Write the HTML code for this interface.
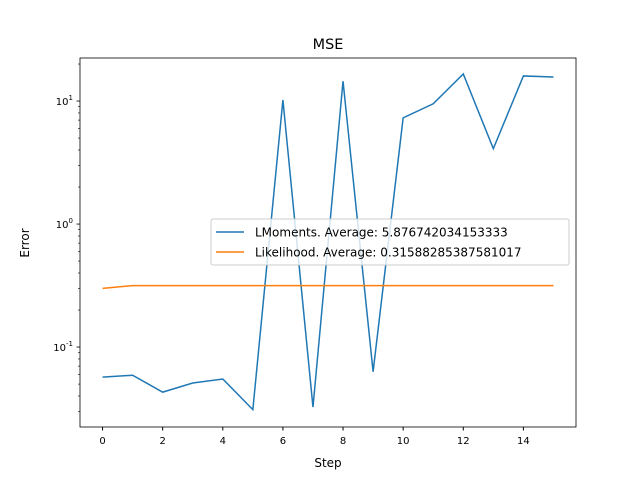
<!DOCTYPE html>
<html><head><meta charset="utf-8"><style>body{margin:0;background:#fff}svg{font-family:"DejaVu Sans","Liberation Sans",sans-serif}</style></head>
<body>
<svg id="chart" width="640" height="480" xmlns="http://www.w3.org/2000/svg">
<rect width="640" height="480" fill="#fff"/>
<text x="328" y="49" font-size="14.4" text-anchor="middle">MSE</text>
<g id="axes"></g>
<text x="328" y="467" font-size="12" text-anchor="middle">Step</text>
<text x="29" y="243" font-size="12" text-anchor="middle" transform="rotate(-90 29 243)">Error</text>
</svg>
<script>
const steps=[0,1,2,3,4,5,6,7,8,9,10,11,12,13,14,15];
const lmoments=[0.057,0.059,0.043,0.051,0.055,0.031,10.2,0.0325,14.5,0.063,7.3,9.5,16.6,4.1,16,15.7];
const likelihood=[0.30,0.316,0.316,0.316,0.316,0.316,0.316,0.316,0.316,0.316,0.316,0.316,0.316,0.316,0.316,0.316];
const xTicks=[0,2,4,6,8,10,12,14];
const yDecades=[-1,0,1];
const legendLabels=["LMoments. Average: 5.876742034153333","Likelihood. Average: 0.31588285387581017"];
const L=80,R=576,T=58,B=427,xmin=-0.75,xmax=15.75,ymin=-1.65,ymax=1.35;
const X=v=>L+(v-xmin)/(xmax-xmin)*(R-L);
const Y=v=>B-(Math.log10(v)-ymin)/(ymax-ymin)*(B-T);
const NS="http://www.w3.org/2000/svg";
const g=document.getElementById('axes');
function mk(t,a,p){const e=document.createElementNS(NS,t);for(const k in a)e.setAttribute(k,a[k]);(p||g).appendChild(e);return e;}
xTicks.forEach(v=>{
const l=mk('line',{x1:X(v),x2:X(v),y1:B,y2:B+3.5,stroke:'#000'});


const t=mk('text',{x:X(v),y:B+17,'font-size':10,'text-anchor':'middle'});t.textContent=v;


});
for(let d=-2;d<=1;d++)for(let m=1;m<10;m++){
const v=m*Math.pow(10,d);const lv=Math.log10(v);if(lv<ymin||lv>ymax)continue;
const major=m===1;
const l=mk('line',{x1:L,x2:L-(major?3.5:2),y1:Y(v),y2:Y(v),stroke:'#000','stroke-width':major?0.8:0.6});


}
yDecades.forEach(d=>{
const t=mk('text',{x:L-7,y:Y(Math.pow(10,d))+4,'font-size':10,'text-anchor':'end'});
t.innerHTML='10<tspan dy="-5" font-size="7">'+d+'</tspan>';


});
function line(vals,color,name){
const p=mk('polyline',{points:steps.map((s,i)=>X(s)+','+Y(vals[i])).join(' '),fill:'none',stroke:color,'stroke-width':1.5});


}
line(lmoments,'#1f77b4','lmoments-line');
line(likelihood,'#ff7f0e','likelihood-line');
const fr=mk('rect',{x:L,y:T,width:R-L,height:B-T,fill:'none',stroke:'#000','stroke-width':0.8});


const lg=mk('g',{});


mk('rect',{x:211,y:219,width:358,height:46,rx:2,fill:'#fff','fill-opacity':0.8,stroke:'#ccc'},lg);
['#1f77b4','#ff7f0e'].forEach((c,i)=>{
const y=232+i*20;
mk('line',{x1:216,x2:244,y1:y,y2:y,stroke:c,'stroke-width':1.5},lg);
const t=mk('text',{x:255,y:y+4.5,'font-size':12},lg);t.textContent=legendLabels[i];


});
</script>
</body></html>
